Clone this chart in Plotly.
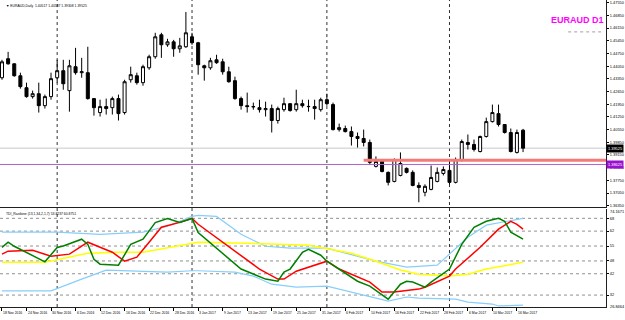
import plotly.graph_objects as go

# ---------------- DATA ----------------
BAR_INDEX = list(range(86))
OPENS = [1.4341, 1.4446, 1.4418, 1.4352, 1.4286, 1.4237, 1.4253, 1.4187, 1.4237, 1.4341,
         1.4380, 1.4270, 1.4402, 1.4369, 1.4369, 1.4226, 1.4149, 1.4182, 1.4176, 1.4226,
         1.4149, 1.4330, 1.4352, 1.4314, 1.4396, 1.4457, 1.4578, 1.4523, 1.4539, 1.4501,
         1.4512, 1.4567, 1.4534, 1.4407, 1.4396, 1.4440, 1.4429, 1.4374, 1.4325, 1.4226,
         1.4187, 1.4182, 1.4176, 1.4165, 1.4171, 1.4105, 1.4165, 1.4198, 1.4165, 1.4198,
         1.4183, 1.4182, 1.4165, 1.4220, 1.4193, 1.4055, 1.4061, 1.4044, 1.4017, 1.4006,
         1.3984, 1.3852, 1.3890, 1.3819, 1.3769, 1.3802, 1.3841, 1.3819, 1.3747, 1.3709,
         1.3725, 1.3769, 1.3813, 1.3830, 1.3764, 1.3890, 1.3984, 1.3973, 1.3934, 1.4017,
         1.4099, 1.4143, 1.4083, 1.4039, 1.3929, 1.40517]
HIGHS = [1.4440, 1.4484, 1.4420, 1.4369, 1.4314, 1.4270, 1.4314, 1.4248, 1.4369, 1.4440,
         1.4440, 1.4440, 1.4506, 1.4451, 1.4512, 1.4228, 1.4220, 1.4226, 1.4237, 1.4248,
         1.4330, 1.4402, 1.4369, 1.4413, 1.4468, 1.4589, 1.4589, 1.4556, 1.4550, 1.4561,
         1.4704, 1.4589, 1.4539, 1.4413, 1.4451, 1.4468, 1.4446, 1.4402, 1.4347, 1.4237,
         1.4259, 1.4204, 1.4220, 1.4209, 1.4193, 1.4182, 1.4231, 1.4200, 1.4275, 1.4220,
         1.4220, 1.4220, 1.4231, 1.4253, 1.4204, 1.4088, 1.4077, 1.4072, 1.4039, 1.4055,
         1.4000, 1.3907, 1.3892, 1.3824, 1.3896, 1.3929, 1.3846, 1.3830, 1.3764, 1.3753,
         1.3857, 1.3846, 1.3852, 1.3890, 1.3901, 1.4000, 1.4028, 1.4000, 1.4022, 1.4121,
         1.4193, 1.4193, 1.4085, 1.4061, 1.4055, 1.40587]
LOWS = [1.4330, 1.4413, 1.4347, 1.4281, 1.4231, 1.4226, 1.4149, 1.4171, 1.4220, 1.4314,
        1.4275, 1.4154, 1.4358, 1.4341, 1.4220, 1.4132, 1.4127, 1.4138, 1.4138, 1.4105,
        1.4138, 1.4314, 1.4303, 1.4297, 1.4385, 1.4446, 1.4451, 1.4512, 1.4457, 1.4479,
        1.4506, 1.4523, 1.4358, 1.4325, 1.4385, 1.4418, 1.4358, 1.4314, 1.4220, 1.4165,
        1.4149, 1.4165, 1.4149, 1.4127, 1.4039, 1.4088, 1.4154, 1.4154, 1.4154, 1.4176,
        1.4154, 1.4110, 1.4154, 1.4187, 1.4050, 1.4044, 1.4039, 1.3967, 1.3956, 1.3962,
        1.3863, 1.3846, 1.3819, 1.3747, 1.3764, 1.3797, 1.3813, 1.3742, 1.3654, 1.3687,
        1.3720, 1.3764, 1.3802, 1.3753, 1.3758, 1.3879, 1.3945, 1.3934, 1.3929, 1.4011,
        1.4094, 1.4072, 1.4033, 1.3929, 1.3923, 1.39308]
CLOSES = [1.4429, 1.4418, 1.4352, 1.4292, 1.4237, 1.4253, 1.4187, 1.4237, 1.4336, 1.4380,
          1.4308, 1.4407, 1.4369, 1.4374, 1.4226, 1.4176, 1.4182, 1.4171, 1.4226, 1.4143,
          1.4319, 1.4358, 1.4314, 1.4402, 1.4457, 1.4567, 1.4523, 1.4539, 1.4501, 1.4517,
          1.4589, 1.4534, 1.4413, 1.4396, 1.4435, 1.4424, 1.4374, 1.4319, 1.4226, 1.4187,
          1.4182, 1.4181, 1.4165, 1.4171, 1.4105, 1.4171, 1.4198, 1.4160, 1.4198, 1.4187,
          1.4182, 1.4171, 1.4220, 1.4198, 1.4055, 1.4066, 1.4044, 1.4017, 1.4006, 1.3984,
          1.3874, 1.3879, 1.3824, 1.3764, 1.3890, 1.3868, 1.3819, 1.3747, 1.3736, 1.3742,
          1.3791, 1.3819, 1.3835, 1.3764, 1.3890, 1.3989, 1.3973, 1.3945, 1.4017, 1.4099,
          1.4149, 1.4083, 1.4039, 1.3934, 1.4039, 1.39525]

DATE_INDEX = [0, 4, 8, 12, 16, 20, 24, 28, 32, 36, 40, 44, 48, 52, 56, 60, 64, 68, 72, 76, 80, 84]
DATE_LABELS = ["18 Nov 2016", "24 Nov 2016", "30 Nov 2016", "6 Dec 2016", "12 Dec 2016",
               "16 Dec 2016", "22 Dec 2016", "28 Dec 2016", "3 Jan 2017", "9 Jan 2017",
               "13 Jan 2017", "19 Jan 2017", "25 Jan 2017", "31 Jan 2017", "6 Feb 2017",
               "10 Feb 2017", "16 Feb 2017", "22 Feb 2017", "28 Feb 2017", "6 Mar 2017",
               "10 Mar 2017", "16 Mar 2017"]
MONTH_START_INDEX = [9, 31, 53, 73]

PRICE_TICKS = [1.4755, 1.4685, 1.4615, 1.4545, 1.4475, 1.4405, 1.4335, 1.4265, 1.4195,
               1.4125, 1.4055, 1.3985, 1.3915, 1.3845, 1.3775, 1.3705, 1.3635]
PRICE_RANGE = [1.3626, 1.4770]
BID_PRICE = 1.39525
PURPLE_LEVEL = 1.38625
RED_LEVEL = 1.3886
RED_LEVEL_START = 59

TDI_LEVELS = [68, 62, 55, 48, 42, 32]
TDI_RANGE = [26.39, 72.21]

UB_X = [0, 9, 16, 23, 27, 31, 32, 35, 39, 43, 47, 53, 61, 66, 71, 76, 79, 83, 85]
UB_V = [61.5, 61.5, 60.5, 61.5, 64.3, 68.9, 69.4, 68.9, 60.5, 54.9, 54.0, 54.0, 47.9,
        45.1, 46.0, 59.1, 64.8, 67.1, 68.0]
LB_X = [0, 8, 13, 17, 22, 27, 31, 32, 38, 41, 44, 48, 53, 55, 60, 63, 66, 68, 74, 76, 80, 81, 85]
LB_V = [34.0, 34.0, 39.5, 43.7, 43.2, 42.8, 43.4, 43.4, 42.8, 40.9, 37.1, 35.7, 36.2, 34.8,
        31.5, 29.2, 31.1, 30.6, 30.1, 28.7, 27.8, 26.9, 27.3]
YL_X = [0, 7, 14, 19, 23, 28, 32, 40, 50, 57, 61, 65, 68, 73, 76, 79, 85]
YL_V = [47.4, 47.4, 51.6, 52.1, 52.1, 54.9, 56.8, 56.3, 55.4, 51.6, 47.9, 43.8, 41.8, 40.9,
        41.8, 44.2, 47.4]
RD_X = [0, 1, 5, 8, 11, 14, 16, 18, 20, 22, 24, 26, 29, 31, 32, 37, 42, 45, 46, 48, 53, 55,
        60, 62, 64, 68, 69, 73, 74, 78, 81, 83, 84, 85]
RD_V = [51.2, 52.6, 53.0, 50.2, 51.2, 56.8, 54.4, 52.1, 47.9, 49.8, 56.8, 63.8, 66.1, 68.0,
        65.2, 54.9, 44.2, 39.5, 39.5, 43.2, 47.9, 44.2, 38.1, 33.4, 33.4, 34.8, 35.7, 40.9,
        44.2, 54.4, 62.9, 66.6, 65.2, 62.9]
GR_X = [0, 1, 2, 7, 9, 10, 13, 14, 15, 16, 19, 21, 23, 25, 27, 29, 31, 32, 39, 43, 45, 46,
        47, 49, 50, 52, 53, 55, 58, 60, 63, 65, 66, 67, 69, 70, 73, 75, 77, 79, 81, 82, 83, 85]
GR_V = [54.4, 56.8, 54.9, 47.6, 54.3, 55.0, 58.2, 55.8, 48.8, 46.5, 46.0, 55.8, 58.2, 66.0,
        67.9, 66.0, 67.9, 61.3, 44.2, 39.5, 38.5, 42.8, 44.2, 52.0, 53.5, 50.7, 47.9, 44.2,
        38.5, 36.2, 30.1, 37.1, 38.5, 38.1, 35.7, 38.1, 44.2, 55.8, 63.8, 66.6, 68.0, 66.6,
        61.5, 58.2]

HEADER = "▼ EURAUD,Daily  1.40517 1.40587 1.39308 1.39525"
TDI_TITLE = "TDI_Rastlone (13,1,34,2,1,7) 53.8237 60.8751"
SYMBOL_TEXT = "EURAUD D1"

# ---------------- LAYOUT CONSTANTS ----------------
W, H = 625, 320
PLOT_RIGHT = 608 / W
MAIN_DOM = [1 - 208 / H, 1.0]
IND_DOM = [12 / H, 1 - 210 / H]
X_RANGE = [-0.325, 98.54]
FONT = "Liberation Sans"
TINY = 3.4
AXF = 3.9

fig = go.Figure()

fig.add_trace(go.Candlestick(
    x=BAR_INDEX, open=OPENS, high=HIGHS, low=LOWS, close=CLOSES,
    increasing=dict(line=dict(color="black", width=1), fillcolor="white"),
    decreasing=dict(line=dict(color="black", width=1), fillcolor="black"),
    whiskerwidth=0, xaxis="x", yaxis="y", showlegend=False, hoverinfo="skip"))

for xs, vs, col, w in [(UB_X, UB_V, "#87cefa", 1.2), (LB_X, LB_V, "#87cefa", 1.2),
                       (YL_X, YL_V, "#ffff00", 1.5), (RD_X, RD_V, "#ff0000", 1.5),
                       (GR_X, GR_V, "#008000", 1.5)]:
    fig.add_trace(go.Scatter(x=xs, y=vs, mode="lines", line=dict(color=col, width=w),
                             xaxis="x2", yaxis="y2", showlegend=False, hoverinfo="skip"))

shapes = []
for mi in MONTH_START_INDEX:
    shapes.append(dict(type="line", xref="x", yref="paper", x0=mi, x1=mi,
                       y0=IND_DOM[0], y1=1.0, line=dict(color="#303030", width=1, dash="dot"),
                       layer="below"))
shapes.append(dict(type="line", xref="paper", yref="y", x0=0, x1=PLOT_RIGHT,
                   y0=BID_PRICE, y1=BID_PRICE, line=dict(color="#c8c8c8", width=1), layer="below"))
shapes.append(dict(type="line", xref="paper", yref="y", x0=0, x1=PLOT_RIGHT,
                   y0=PURPLE_LEVEL, y1=PURPLE_LEVEL, line=dict(color="#b060d0", width=1)))
shapes.append(dict(type="line", xref="x", yref="y", x0=RED_LEVEL_START, x1=X_RANGE[1],
                   y0=RED_LEVEL, y1=RED_LEVEL, line=dict(color="#f47a7a", width=3)))
for lv in TDI_LEVELS:
    shapes.append(dict(type="line", xref="paper", yref="y2", x0=0, x1=PLOT_RIGHT,
                       y0=lv, y1=lv, line=dict(color="#909090", width=1, dash="dot"),
                       layer="below"))
shapes.append(dict(type="line", xref="paper", yref="paper", x0=570 / W, x1=603 / W,
                   y0=1 - 32 / H, y1=1 - 32 / H, line=dict(color="#a0a0a0", width=1, dash="dot")))

annotations = []
for di, lab in zip(DATE_INDEX, DATE_LABELS):
    annotations.append(dict(x=di, xref="x2", y=1 - 310 / H, yref="paper", text=lab,
                            showarrow=False, xanchor="left", yanchor="top", xshift=-1,
                            font=dict(family=FONT, size=TINY, color="black")))
annotations.append(dict(x=4 / W, xref="paper", y=1 - 2 / H, yref="paper", text=HEADER,
                        showarrow=False, xanchor="left", yanchor="top",
                        font=dict(family=FONT, size=TINY, color="black")))
annotations.append(dict(x=4 / W, xref="paper", y=1 - 211 / H, yref="paper", text=TDI_TITLE,
                        showarrow=False, xanchor="left", yanchor="top",
                        font=dict(family=FONT, size=TINY, color="black")))
annotations.append(dict(x=579 / W, xref="paper", y=1 - 20 / H, yref="paper",
                        text="<b>" + SYMBOL_TEXT + "</b>",
                        showarrow=False, xanchor="center", yanchor="middle",
                        font=dict(family=FONT, size=9, color="#ff00ff")))
annotations.append(dict(x=PLOT_RIGHT, xref="paper", y=BID_PRICE, yref="y",
                        text=f"{BID_PRICE:.5f}", showarrow=False, xanchor="left", yanchor="middle",
                        bgcolor="black", borderpad=1, xshift=0,
                        font=dict(family=FONT, size=AXF, color="white")))
annotations.append(dict(x=PLOT_RIGHT, xref="paper", y=PURPLE_LEVEL, yref="y",
                        text=f"{PURPLE_LEVEL:.5f}", showarrow=False, xanchor="left", yanchor="middle",
                        bgcolor="#9a10d0", borderpad=1, xshift=0,
                        font=dict(family=FONT, size=AXF, color="white")))
annotations.append(dict(x=PLOT_RIGHT, xref="paper", y=1 - 212 / H, yref="paper",
                        text="74.1671", showarrow=False, xanchor="left", yanchor="middle", xshift=2,
                        font=dict(family=FONT, size=AXF, color="black")))
annotations.append(dict(x=PLOT_RIGHT, xref="paper", y=1 - 307 / H, yref="paper",
                        text="26.8464", showarrow=False, xanchor="left", yanchor="middle", xshift=2,
                        font=dict(family=FONT, size=AXF, color="black")))

fig.update_layout(
    width=W, height=H, margin=dict(l=0, r=0, t=0, b=0),
    paper_bgcolor="white", plot_bgcolor="white", showlegend=False,
    xaxis=dict(domain=[0, PLOT_RIGHT], range=X_RANGE, anchor="y", showticklabels=False,
               showgrid=False, zeroline=False, showline=True, linecolor="#202020", linewidth=1,
               rangeslider=dict(visible=False), fixedrange=True),
    yaxis=dict(domain=MAIN_DOM, range=PRICE_RANGE, anchor="x", side="right",
               tickvals=PRICE_TICKS, ticktext=[f"{v:.5f}" for v in PRICE_TICKS],
               ticks="outside", ticklen=2, tickcolor="black",
               tickfont=dict(family=FONT, size=AXF, color="black"),
               showgrid=False, zeroline=False, showline=True, linecolor="#202020", linewidth=1),
    xaxis2=dict(domain=[0, PLOT_RIGHT], range=X_RANGE, anchor="y2", showticklabels=False,
                tickvals=DATE_INDEX, ticks="outside", ticklen=3, tickcolor="black",
                showgrid=False, zeroline=False, showline=True, linecolor="#202020", linewidth=1),
    yaxis2=dict(domain=IND_DOM, range=TDI_RANGE, anchor="x2", side="right",
                tickvals=TDI_LEVELS, ticktext=[str(v) for v in TDI_LEVELS],
                ticks="outside", ticklen=2, tickcolor="black",
                tickfont=dict(family=FONT, size=AXF, color="black"),
                showgrid=False, zeroline=False, showline=True, linecolor="#202020", linewidth=1),
    shapes=shapes, annotations=annotations,
)

fig.write_html("out.html")
